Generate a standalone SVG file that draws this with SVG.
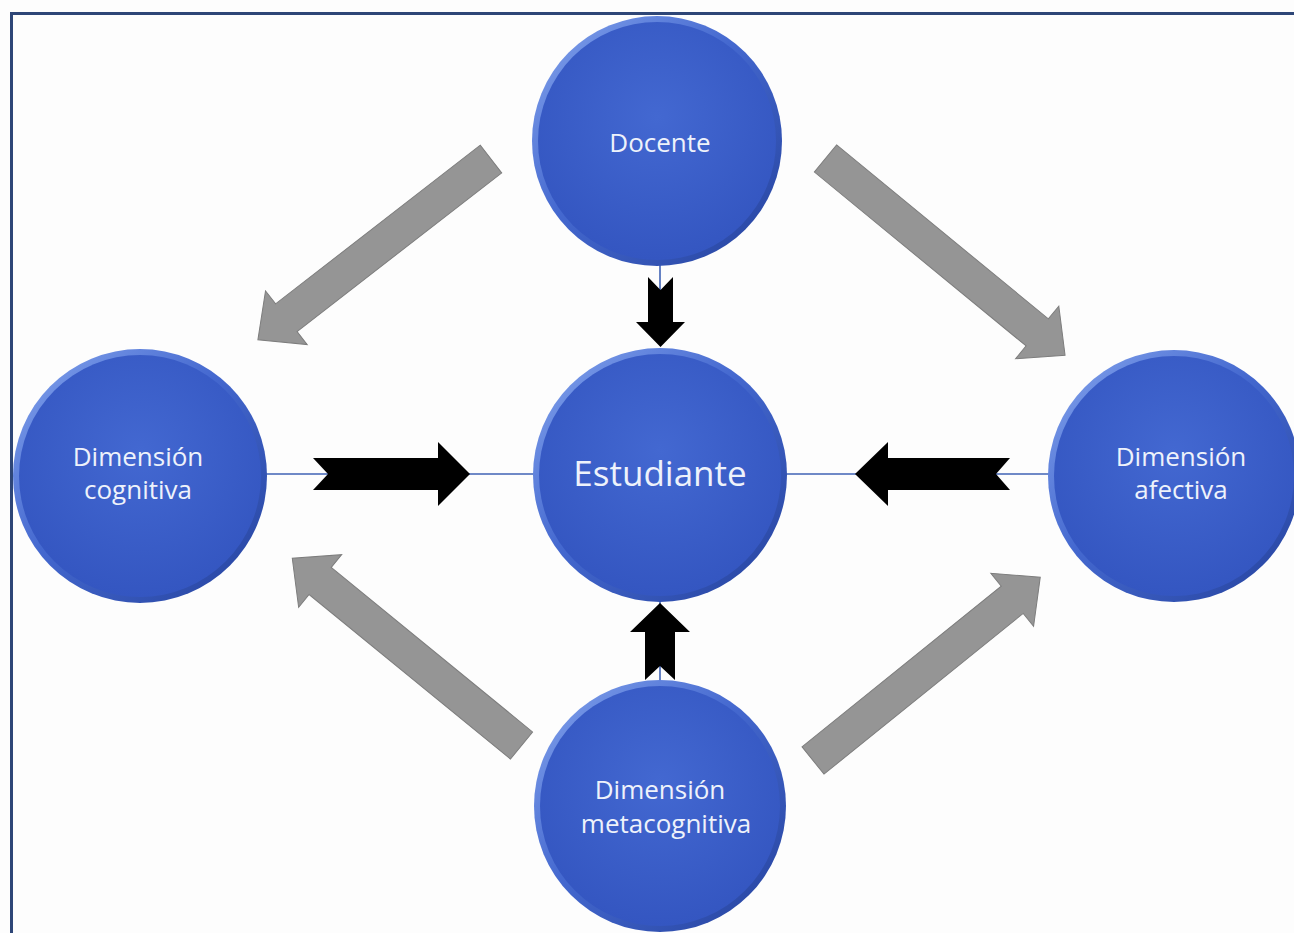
<svg xmlns="http://www.w3.org/2000/svg" width="1294" height="933" viewBox="0 0 1294 933">
  <defs>
    <linearGradient id="rim" x1="0" y1="0" x2="1" y2="1">
      <stop offset="0" stop-color="#86a6ee"/>
      <stop offset="0.45" stop-color="#4468cf"/>
      <stop offset="1" stop-color="#24419c"/>
    </linearGradient>
    <radialGradient id="face" cx="0.5" cy="0.4" r="0.6">
      <stop offset="0" stop-color="#4368d1"/>
      <stop offset="1" stop-color="#3456c1"/>
    </radialGradient>
    <style>
      .rim { fill: url(#rim); }
      .face { fill: url(#face); }
      .lbl { font-family: "Open Sans", "Noto Sans", "Liberation Sans", sans-serif; fill: #eef2fb; text-anchor: middle; font-size: 26px; }
      .big { font-size: 35px; }
      .gray { fill: #959595; stroke: #7d7d7d; stroke-width: 1; }
      .black { fill: #000; }
      .link { stroke: #3f62b5; stroke-width: 1.6; fill: none; }
    </style>
  </defs>

  <rect x="0" y="0" width="1294" height="933" fill="#fdfdfd"/>
  <!-- frame -->
  <rect x="11.5" y="13.5" width="1300" height="940" fill="none" stroke="#2e4677" stroke-width="3"/>

  <!-- connectors -->
  <g id="connectors">
    <line class="link" x1="262" y1="474" x2="536" y2="474"/>
    <line class="link" x1="784" y1="474" x2="1050" y2="474"/>
    <line class="link" x1="660" y1="264" x2="660" y2="292" stroke="#8fa6d6"/>
    <line class="link" x1="660" y1="600" x2="660" y2="682" stroke="#8fa6d6"/>

    <!-- gray diagonal arrows -->
    <path class="gray" transform="translate(491,159) rotate(142.2)" d="M0,-17.5 H259 V-34 L295,0 L259,34 V17.5 H0 Z"/>
    <path class="gray" transform="translate(825.5,158.5) rotate(39.4)" d="M0,-17.5 H274 V-34 L310,0 L274,34 V17.5 H0 Z"/>
    <path class="gray" transform="translate(521.5,745.5) rotate(-140.75)" d="M0,-17.5 H260 V-34 L296,0 L260,34 V17.5 H0 Z"/>
    <path class="gray" transform="translate(813,760.5) rotate(-38.9)" d="M0,-17.5 H256 V-34 L292,0 L256,34 V17.5 H0 Z"/>

    <!-- black notched arrows -->
    <path class="black" d="M313,458 H438 V442 L470,474 L438,506 V490 H313 L328,474 Z"/>
    <path class="black" d="M855,474 L888,442 V458 H1010 L996,474 L1010,490 H888 V506 Z"/>
    <path class="black" d="M648,277 L660.5,290 L673,277 V322 H685 L660.5,347 L636,322 H648 Z"/>
    <path class="black" d="M660,603 L690,632 H675 V680 L660,666 L645,680 V632 H630 Z"/>
  </g>

  <g id="docente">
    <circle class="rim" cx="657" cy="141" r="125"/>
    <circle class="face" cx="657" cy="141" r="119"/>
    <text class="lbl" x="660" y="152">Docente</text>
  </g>

  <g id="estudiante">
    <circle class="rim" cx="660" cy="475" r="127"/>
    <circle class="face" cx="660" cy="475" r="121"/>
    <text class="lbl big" x="660" y="486">Estudiante</text>
  </g>

  <g id="cognitiva">
    <circle class="rim" cx="140" cy="476" r="127"/>
    <circle class="face" cx="140" cy="476" r="121"/>
    <text class="lbl" x="138" y="466">Dimensión</text>
    <text class="lbl" x="138" y="499">cognitiva</text>
  </g>

  <g id="afectiva">
    <circle class="rim" cx="1174" cy="476" r="126"/>
    <circle class="face" cx="1174" cy="476" r="120"/>
    <text class="lbl" x="1181" y="466">Dimensión</text>
    <text class="lbl" x="1181" y="499">afectiva</text>
  </g>

  <g id="metacognitiva">
    <circle class="rim" cx="660" cy="806" r="126"/>
    <circle class="face" cx="660" cy="806" r="120"/>
    <text class="lbl" x="660" y="799">Dimensión</text>
    <text class="lbl" x="666" y="833">metacognitiva</text>
  </g>
</svg>
